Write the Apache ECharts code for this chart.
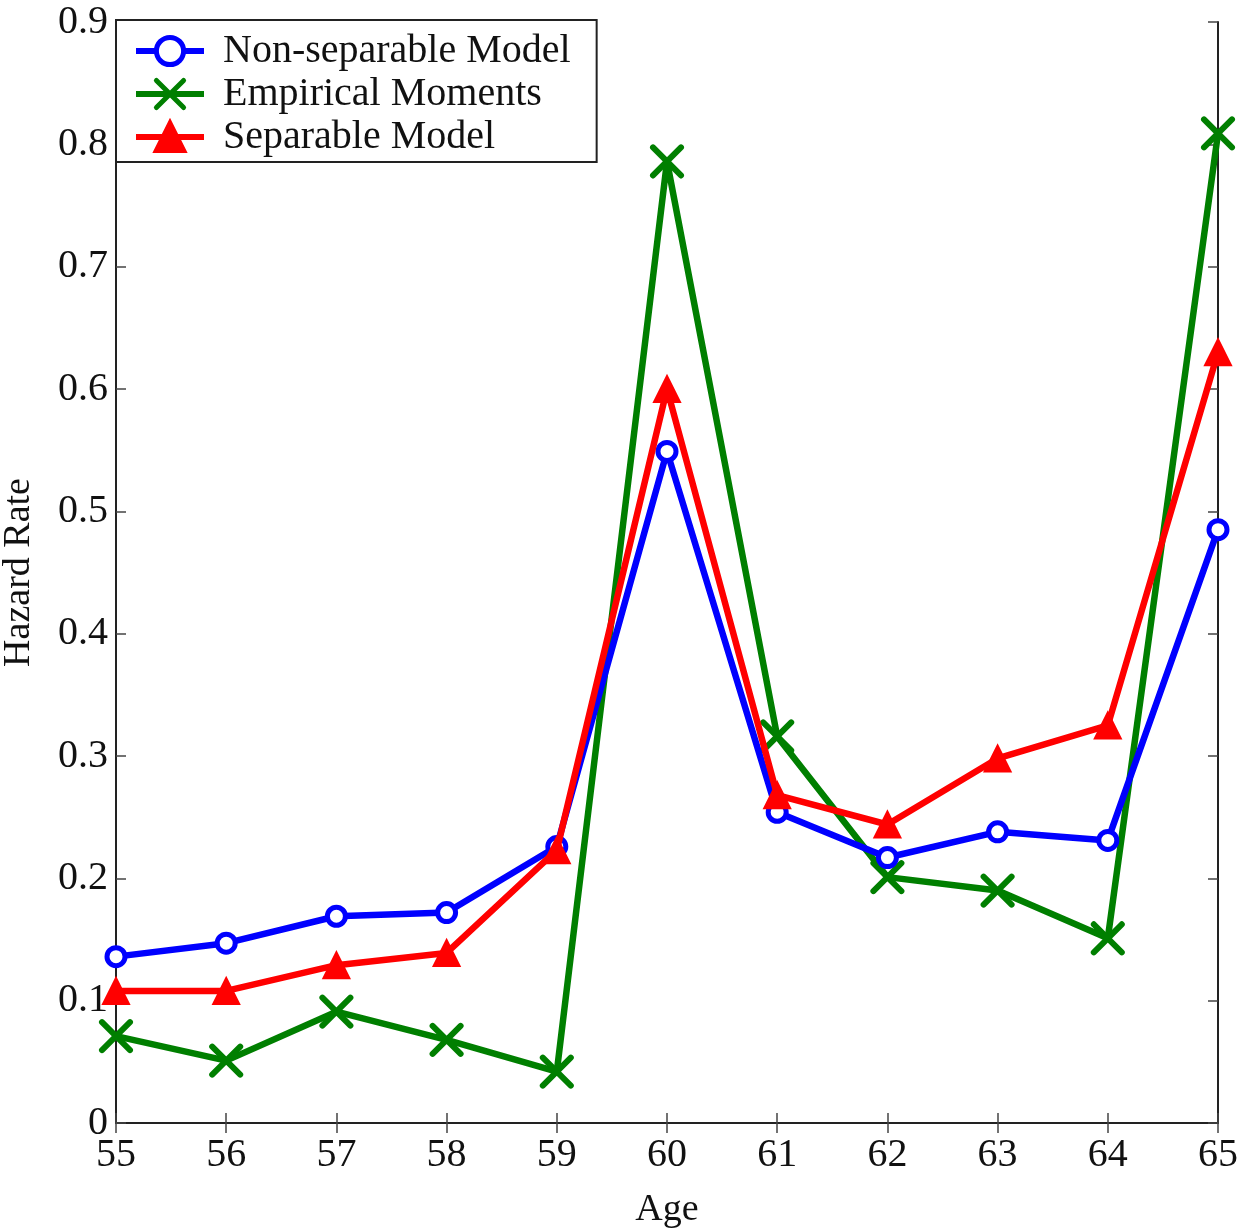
<!DOCTYPE html>
<html>
<head>
<meta charset="utf-8">
<script src="https://cdn.jsdelivr.net/npm/echarts@6/dist/echarts.min.js"></script>
<style>html,body{margin:0;padding:0;background:#fff}#c{width:1256px;height:1229px}</style>
</head>
<body>
<div id="c"></div>
<script>
var ages = [55, 56, 57, 58, 59, 60, 61, 62, 63, 64, 65];
var nonSeparable = [0.136, 0.147, 0.169, 0.172, 0.226, 0.549, 0.254, 0.217, 0.238, 0.231, 0.485];
var empirical = [0.071, 0.051, 0.091, 0.068, 0.042, 0.786, 0.316, 0.201, 0.190, 0.151, 0.809];
var separable = [0.108, 0.108, 0.129, 0.139, 0.223, 0.600, 0.268, 0.244, 0.298, 0.325, 0.630];
var seriesNames = ['Non-separable Model', 'Empirical Moments', 'Separable Model'];

function pairs(vals){ return ages.map(function(a,i){ return [a, vals[i]]; }); }
var font = 'Liberation Serif, Times New Roman, serif';
var axisCommon = {
  axisLine: {show: true, lineStyle: {color: '#222', width: 2}},
  axisTick: {show: true, inside: true, length: 10, lineStyle: {color: '#444', width: 1.5}},
  splitLine: {show: false}
};
var chart = echarts.init(document.getElementById('c'), null, {renderer: 'canvas'});
chart.setOption({
  animation: false,
  backgroundColor: '#fff',
  grid: {left: 116, top: 22, right: 38, bottom: 106, outerBoundsMode: 'none', containLabel: false},
  legend: {
    left: 116, top: 20, orient: 'vertical',
    padding: [11, 26, 5, 17],
    itemGap: 3,
    itemWidth: 68, itemHeight: 34,
    borderColor: '#222', borderWidth: 2, backgroundColor: '#fff',
    lineStyle: {width: 6},
    itemStyle: {borderWidth: 5},
    textStyle: {fontFamily: font, fontSize: 40, lineHeight: 40, color: '#111', padding: [0,0,0,14]},
    data: seriesNames
  },
  xAxis: [
    Object.assign({type: 'value', min: 55, max: 65, interval: 1, position: 'bottom',
      name: 'Age', nameLocation: 'middle', nameGap: 68,
      nameTextStyle: {fontFamily: font, fontSize: 38, color: '#111'},
      axisLabel: {fontFamily: font, fontSize: 40, color: '#111', margin: 12}}, axisCommon),
    Object.assign({type: 'value', min: 55, max: 65, interval: 1, position: 'top',
      axisLabel: {show: false}}, axisCommon)
  ],
  yAxis: [
    Object.assign({type: 'value', min: 0, max: 0.9, interval: 0.1, position: 'left',
      name: 'Hazard Rate', nameLocation: 'middle', nameGap: 78, nameRotate: 90,
      nameTextStyle: {fontFamily: font, fontSize: 38, color: '#111'},
      axisLabel: {fontFamily: font, fontSize: 40, color: '#111', margin: 8,
        formatter: function(v){ return v === 0 ? '0' : v.toFixed(1); }}}, axisCommon),
    Object.assign({type: 'value', min: 0, max: 0.9, interval: 0.1, position: 'right',
      axisLabel: {show: false}}, axisCommon)
  ],
  series: [
    {name: seriesNames[0], type: 'line', data: pairs(nonSeparable),
      symbol: 'circle', symbolSize: 18,
      lineStyle: {color: '#0000ff', width: 6.5},
      itemStyle: {color: '#fff', borderColor: '#0000ff', borderWidth: 5},
      z: 3},
    {name: seriesNames[1], type: 'line', data: pairs(empirical),
      symbol: 'path://M0,0L10,10M10,0L0,10', symbolSize: 28,
      lineStyle: {color: '#007f00', width: 6.5},
      itemStyle: {color: '#007f00', borderColor: '#007f00', borderWidth: 6, borderCap: 'round'},
      z: 2},
    {name: seriesNames[2], type: 'line', data: pairs(separable),
      symbol: 'triangle', symbolSize: 26,
      lineStyle: {color: '#ff0000', width: 6.5},
      itemStyle: {color: '#ff0000', borderColor: '#ff0000', borderWidth: 2},
      z: 4}
  ]
});
</script>
</body>
</html>
